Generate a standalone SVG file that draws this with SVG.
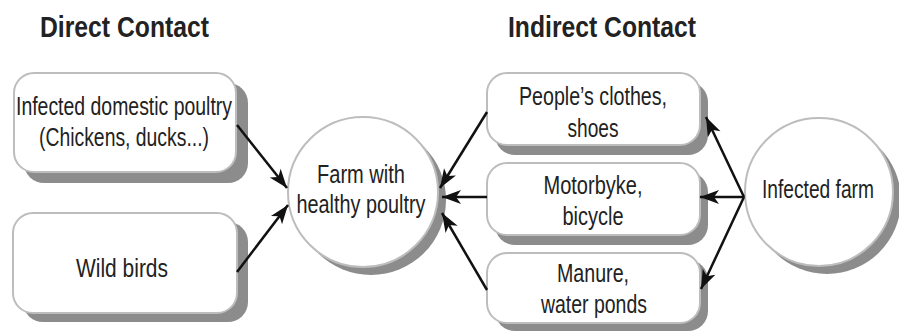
<svg xmlns="http://www.w3.org/2000/svg" width="899" height="333" viewBox="0 0 899 333">
<defs>
<style>
.box{fill:#fff;stroke:#bdbdbd;stroke-width:2}
.shd{fill:#8c8c8c}
.t{font-family:"Liberation Sans",Arial,sans-serif;font-size:25px;fill:#222;text-anchor:middle}
.h{font-family:"Liberation Sans",Arial,sans-serif;font-size:29px;font-weight:bold;fill:#222}
.c{stroke:#111;stroke-width:2.5;fill:none;marker-end:url(#ah)}
</style>
<marker id="ah" markerUnits="userSpaceOnUse" markerWidth="24" markerHeight="20" viewBox="-20 -10 22 20" refX="0" refY="0" orient="auto">
<path d="M0,0 L-19,-7 L-14,0 L-19,7 Z" fill="#111"/>
</marker>
</defs>
<rect width="899" height="333" fill="#fff"/>
<text class="h" x="40" y="37" textLength="169" lengthAdjust="spacingAndGlyphs">Direct Contact</text>
<text class="h" x="508" y="37" textLength="188" lengthAdjust="spacingAndGlyphs">Indirect Contact</text>

<g id="node-domestic">
<rect class="shd" x="24" y="83" width="224" height="100" rx="20"/>
<rect class="box" x="14" y="73" width="222" height="99" rx="20"/>
<text class="t" x="124" y="115" textLength="216" lengthAdjust="spacingAndGlyphs">Infected domestic poultry</text>
<text class="t" x="124" y="146" textLength="170" lengthAdjust="spacingAndGlyphs">(Chickens, ducks...)</text>
</g>
<g id="node-wild">
<rect class="shd" x="23" y="222" width="225" height="100" rx="20"/>
<rect class="box" x="13" y="213" width="224" height="100" rx="20"/>
<text class="t" x="122" y="277" textLength="92" lengthAdjust="spacingAndGlyphs">Wild birds</text>
</g>
<g id="node-farm">
<circle class="shd" cx="371" cy="200" r="75"/>
<circle class="box" cx="363" cy="192" r="75"/>
<text class="t" x="361" y="183" textLength="88" lengthAdjust="spacingAndGlyphs">Farm with</text>
<text class="t" x="361" y="213" textLength="129" lengthAdjust="spacingAndGlyphs">healthy poultry</text>
</g>
<g id="node-clothes">
<rect class="shd" x="495" y="82" width="213" height="73" rx="20"/>
<rect class="box" x="487" y="73" width="213" height="72" rx="20"/>
<text class="t" x="593" y="105" textLength="148" lengthAdjust="spacingAndGlyphs">People’s clothes,</text>
<text class="t" x="593" y="137" textLength="51" lengthAdjust="spacingAndGlyphs">shoes</text>
</g>
<g id="node-motorbyke">
<rect class="shd" x="495" y="172" width="213" height="73" rx="20"/>
<rect class="box" x="487" y="163" width="213" height="72" rx="20"/>
<text class="t" x="593" y="194" textLength="99" lengthAdjust="spacingAndGlyphs">Motorbyke,</text>
<text class="t" x="593" y="225" textLength="61" lengthAdjust="spacingAndGlyphs">bicycle</text>
</g>
<g id="node-manure">
<rect class="shd" x="495" y="260" width="213" height="71" rx="20"/>
<rect class="box" x="487" y="253" width="213" height="70" rx="20"/>
<text class="t" x="593" y="282" textLength="72" lengthAdjust="spacingAndGlyphs">Manure,</text>
<text class="t" x="594" y="313" textLength="106" lengthAdjust="spacingAndGlyphs">water ponds</text>
</g>
<g id="node-infected">
<circle class="shd" cx="827" cy="200" r="74"/>
<circle class="box" cx="819" cy="192" r="74"/>
<text class="t" x="818" y="198" textLength="112" lengthAdjust="spacingAndGlyphs">Infected farm</text>
</g>

<g id="connectors">
<line class="c" x1="237" y1="125" x2="287" y2="188"/>
<line class="c" x1="237" y1="272" x2="288" y2="205"/>
<line class="c" x1="487" y1="112" x2="440" y2="188"/>
<line class="c" x1="487" y1="197" x2="442" y2="197"/>
<line class="c" x1="487" y1="290" x2="442" y2="213"/>
<line class="c" x1="744" y1="197" x2="706" y2="117"/>
<line class="c" x1="744" y1="197" x2="700" y2="197"/>
<line class="c" x1="744" y1="197" x2="701" y2="289"/>
</g>
</svg>
